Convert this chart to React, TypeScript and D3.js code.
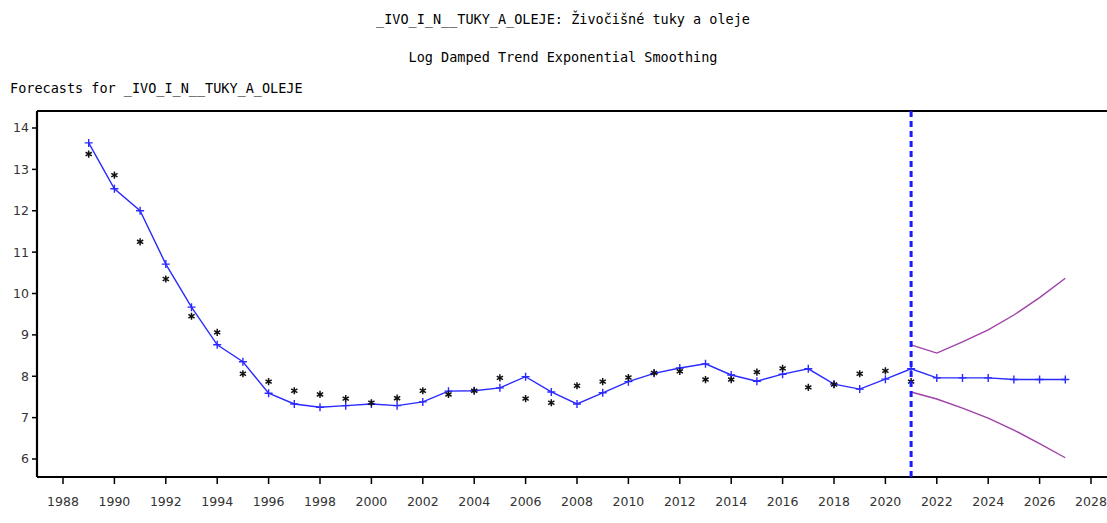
import React from "react";
import * as d3 from "d3";

const titleMain = "_IVO_I_N__TUKY_A_OLEJE: Živočišné tuky a oleje";
const titleSub = "Log Damped Trend Exponential Smoothing";
const titleLeft = "Forecasts for _IVO_I_N__TUKY_A_OLEJE";

const actualStart = 1989;
const actual = [13.37, 12.86, 11.25, 10.35, 9.45, 9.06, 8.06, 7.87, 7.65, 7.56, 7.46, 7.36, 7.47, 7.65, 7.56, 7.65, 7.96, 7.46, 7.36, 7.77, 7.87, 7.97, 8.08, 8.12, 7.92, 7.92, 8.10, 8.19, 7.73, 7.80, 8.06, 8.13, 7.87];

const forecastStart = 1989;
const forecast = [13.64, 12.53, 12.0, 10.71, 9.67, 8.76, 8.35, 7.59, 7.33, 7.25, 7.29, 7.33, 7.29, 7.38, 7.64, 7.65, 7.72, 7.99, 7.62, 7.33, 7.60, 7.87, 8.07, 8.20, 8.30, 8.03, 7.88, 8.05, 8.18, 7.81, 7.69, 7.93, 8.18, 7.96, 7.96, 7.96, 7.92, 7.92, 7.92];

const boundStart = 2021;
const upper = [8.76, 8.56, 8.83, 9.12, 9.48, 9.90, 10.37];
const lower = [7.62, 7.45, 7.23, 6.99, 6.70, 6.37, 6.03];

const forecastOrigin = 2021;
const xTicks = [1988, 1990, 1992, 1994, 1996, 1998, 2000, 2002, 2004, 2006, 2008, 2010, 2012, 2014, 2016, 2018, 2020, 2022, 2024, 2026, 2028];
const yTicks = [6, 7, 8, 9, 10, 11, 12, 13, 14];

export default function App() {
  const W = 1107, H = 523;
  const left = 37, top = 111, bottom = 477, right = 1107;
  const x = d3.scaleLinear().domain([1988, 2028]).range([63, 1091]);
  const y = d3.scaleLinear().domain([6, 14]).range([459, 128]);

  const toPts = (arr: number[], start: number) => arr.map((v, i) => [start + i, v] as [number, number]);
  const line = d3.line<[number, number]>().x(d => x(d[0])).y(d => y(d[1]));

  const fPts = toPts(forecast, forecastStart);
  const aPts = toPts(actual, actualStart);
  const uPts = toPts(upper, boundStart);
  const lPts = toPts(lower, boundStart);

  const mono = "'DejaVu Sans Mono', 'Liberation Mono', monospace";
  const sans = "'DejaVu Sans', Verdana, sans-serif";
  const star = (cx: number, cy: number, r: number) => {
    let p = "";
    for (let k = 0; k < 3; k++) {
      const a = Math.PI / 2 + (k * Math.PI) / 3;
      p += `M${cx + r * Math.cos(a)},${cy - r * Math.sin(a)}L${cx - r * Math.cos(a)},${cy + r * Math.sin(a)}`;
    }
    return p;
  };

  return (
    <svg width={W} height={H} style={{ position: "absolute", left: 0, top: 0, background: "#fff" }}>
      <text x={563} y={24} textAnchor="middle" fontFamily={mono} fontSize={13.5} fill="#000">{titleMain}</text>
      <text x={563} y={62} textAnchor="middle" fontFamily={mono} fontSize={13.5} fill="#000">{titleSub}</text>
      <text x={10} y={93} fontFamily={mono} fontSize={13.5} fill="#000">{titleLeft}</text>

      {/* frame */}
      <line x1={left} y1={top} x2={right} y2={top} stroke="#000" strokeWidth={2.2} />
      <line x1={left} y1={top} x2={left} y2={bottom} stroke="#000" strokeWidth={2.2} />
      <line x1={left} y1={bottom} x2={right} y2={bottom} stroke="#000" strokeWidth={2.2} />

      {yTicks.map(t => (
        <g key={"y" + t}>
          <line x1={32} x2={left} y1={y(t)} y2={y(t)} stroke="#000" strokeWidth={1.5} />
          <text x={29} y={y(t)} dy="0.35em" textAnchor="end" fontFamily={sans} fontSize={12.5} fill="#333">{t}</text>
        </g>
      ))}
      {xTicks.map(t => (
        <g key={"x" + t}>
          <line x1={x(t)} x2={x(t)} y1={bottom} y2={484} stroke="#000" strokeWidth={1.5} />
          <text x={x(t)} y={502} dy="0.35em" textAnchor="middle" fontFamily={sans} fontSize={12.5} fill="#333">{t}</text>
        </g>
      ))}

      {/* bounds */}
      <path d={line(uPts) || ""} fill="none" stroke="#a040a8" strokeWidth={1.4} />
      <path d={line(lPts) || ""} fill="none" stroke="#a040a8" strokeWidth={1.4} />

      {/* forecast line */}
      <path d={line(fPts) || ""} fill="none" stroke="#2a2aff" strokeWidth={1.4} />
      {fPts.map((d, i) => (
        <path key={"p" + i} d={`M${x(d[0]) - 4},${y(d[1])}H${x(d[0]) + 4}M${x(d[0])},${y(d[1]) - 4}V${y(d[1]) + 4}`} stroke="#2a2aff" strokeWidth={1.4} />
      ))}

      {/* actual */}
      {aPts.map((d, i) => (
        <path key={"a" + i} d={star(x(d[0]), y(d[1]), 3.6)} stroke="#111" strokeWidth={1.5} />
      ))}

      {/* forecast origin */}
      <line x1={x(forecastOrigin)} x2={x(forecastOrigin)} y1={top} y2={bottom} stroke="#1a1aff" strokeWidth={3} strokeDasharray="6,4" />
    </svg>
  );
}
